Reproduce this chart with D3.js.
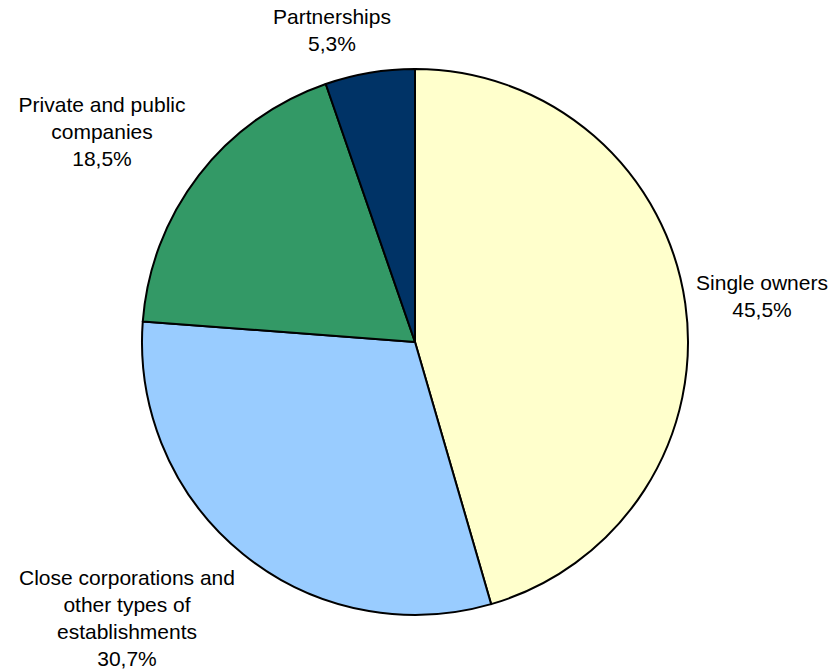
<!DOCTYPE html>
<html>
<head>
<meta charset="utf-8">
<script src="https://cdn.jsdelivr.net/npm/d3@7"></script>
<style>
  html, body { margin: 0; padding: 0; background: #fff; }
  svg { display: block; }
  text { font-family: "Liberation Sans", Arial, sans-serif; font-size: 21px; fill: #000; }
</style>
</head>
<body>
<svg id="chart" width="834" height="669"></svg>
<script>
// Data
const categories = [
  "Single owners",
  "Close corporations and other types of establishments",
  "Private and public companies",
  "Partnerships"
];
const values = [45.5, 30.7, 18.5, 5.3];
const labelLines = [
  ["Single owners"],
  ["Close corporations and", "other types of", "establishments"],
  ["Private and public", "companies"],
  ["Partnerships"]
];
const colors = ["#FFFFCC", "#99CCFF", "#339966", "#003366"];

// Layout (label anchor: center x, first baseline y)
const labelPos = [
  [762, 290],
  [127, 585],
  [102, 112],
  [332, 24]
];
const lineH = 27;

const svg = d3.select("#chart");
const cx = 415, cy = 342, r = 273;

const pie = d3.pie().sort(null).value(d => d)(values);
const arc = d3.arc().innerRadius(0).outerRadius(r);

const g = svg.append("g").attr("transform", `translate(${cx},${cy})`);
g.selectAll("path")
  .data(pie)
  .join("path")
  .attr("d", arc)
  .attr("fill", (d, i) => colors[i])
  .attr("stroke", "#000")
  .attr("stroke-width", 2)
  .attr("stroke-linejoin", "round");

const fmt = v => d3.format(".1f")(v).replace(".", ",") + "%";

categories.forEach((c, i) => {
  const lines = labelLines[i].concat([fmt(values[i])]);
  const t = svg.append("text")
    .attr("text-anchor", "middle")
    .attr("x", labelPos[i][0])
    .attr("y", labelPos[i][1]);
  lines.forEach((l, j) => {
    t.append("tspan")
      .attr("x", labelPos[i][0])
      .attr("dy", j === 0 ? 0 : lineH)
      .text(l);
  });
});
</script>
</body>
</html>
